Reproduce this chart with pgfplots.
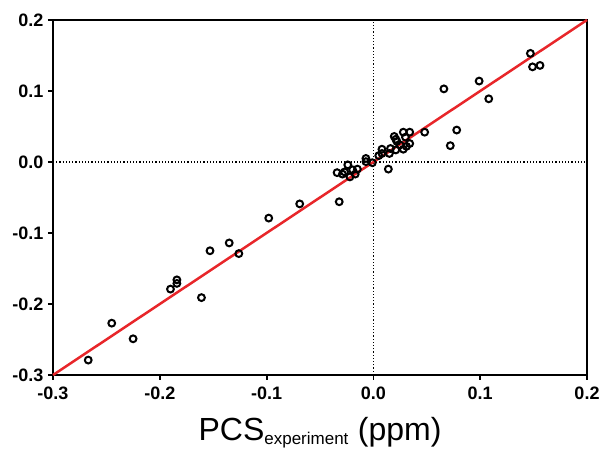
\documentclass[border=0pt]{standalone}
\usepackage{fontspec}
\setmainfont{Liberation Sans}
\usepackage{pgfplots}
\pgfplotsset{compat=1.18}
\definecolor{fitred}{HTML}{E8262A}

\begin{document}
\begin{tikzpicture}
\begin{axis}[
    name=main,
    scale only axis,
    width=534pt,
    height=355pt,
    xmin=-0.3, xmax=0.2,
    ymin=-0.3, ymax=0.2,
    xtick={-0.3,-0.2,...,0.2},
    ytick={-0.3,-0.2,...,0.2},
    axis lines*=left,
    axis line style={line width=1.8pt, -},
    tick style={line width=1.8pt, black},
    tick align=outside,
    major tick length=5pt,
    /pgf/number format/assume math mode=true,
    /pgf/number format/.cd, fixed, fixed zerofill, precision=1,
    /pgfplots/.cd,
    tick label style={font=\fontsize{18}{20}\selectfont\bfseries},
    xticklabel style={yshift=-3pt},
    yticklabel style={xshift=-1pt},
    xlabel={PCS\textsubscript{\fontsize{17}{19}\selectfont experiment} (ppm)},
    xlabel style={font=\fontsize{32}{36}\selectfont, yshift=-11pt},
    clip=false,
]
% right and top frame lines
\addplot[black, line width=1.8pt] coordinates {(-0.3,0.2) (0.2,0.2) (0.2,-0.3)};
% zero reference lines
\addplot[black, dotted, line width=1.2pt] coordinates {(0,-0.3) (0,0.2)};
\addplot[black, dotted, line width=1.2pt] coordinates {(-0.3,0) (0.2,0)};
% identity line
\addplot[fitred, line width=2.5pt] coordinates {(-0.3,-0.3) (0.2,0.2)};
% data
\addplot[only marks, mark=o, mark size=3.4pt, mark options={line width=2pt, draw=black, fill=white}] coordinates {
(-0.267,-0.279) (-0.245,-0.227) (-0.225,-0.249) (-0.190,-0.179)
(-0.184,-0.166) (-0.184,-0.171) (-0.161,-0.191) (-0.153,-0.125)
(-0.135,-0.114) (-0.126,-0.129) (-0.098,-0.079) (-0.069,-0.059)
(-0.032,-0.056) (-0.034,-0.015) (-0.029,-0.017) (-0.024,-0.004)
(-0.022,-0.021) (-0.0195,-0.011) (-0.017,-0.017) (-0.015,-0.010)
(-0.027,-0.014) (-0.007,0.005) (-0.007,0.0005) (-0.001,-0.001)
(0.005,0.009) (0.008,0.012) (0.008,0.018) (0.015,0.012)
(0.016,0.019) (0.021,0.017) (0.014,-0.010) (0.0195,0.036)
(0.021,0.032) (0.022,0.029) (0.025,0.024) (0.028,0.018)
(0.028,0.042) (0.034,0.042) (0.030,0.035) (0.034,0.026)
(0.031,0.022) (0.048,0.042) (0.072,0.023) (0.078,0.045)
(0.066,0.103) (0.099,0.114) (0.108,0.089) (0.147,0.153)
(0.149,0.134) (0.156,0.136)
};
\end{axis}
% margins round the frame, as in the original
\path (main.south west) ++(-53pt,-80pt);
\path (main.north east) ++(18pt,20pt);
\end{tikzpicture}
\end{document}
